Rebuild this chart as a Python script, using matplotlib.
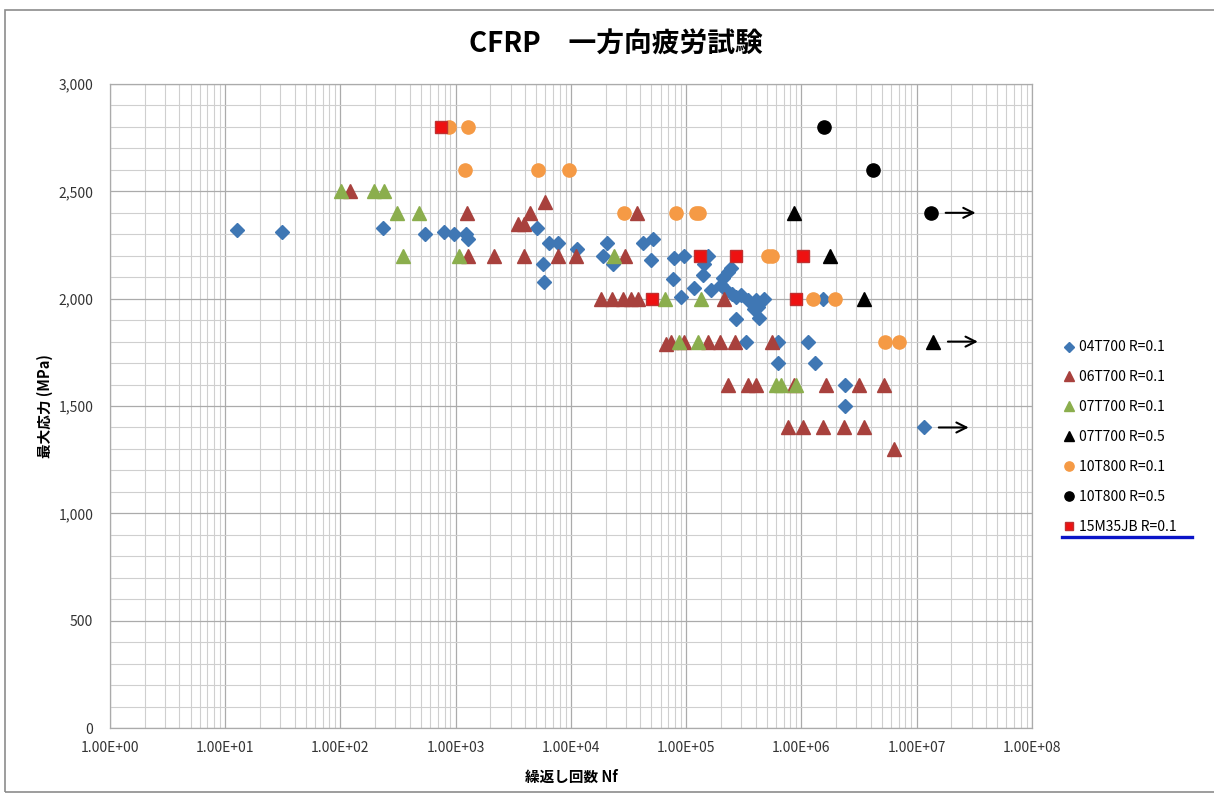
import matplotlib
matplotlib.use("Agg")
import matplotlib.pyplot as plt
from matplotlib.ticker import (FixedLocator, LogLocator, MultipleLocator,
                               FuncFormatter, NullFormatter)
from matplotlib.lines import Line2D
from matplotlib.patches import Rectangle

plt.rcParams['font.family'] = ['Noto Sans CJK JP', 'DejaVu Sans']

# cycles to failure Nf and max stress (MPa) per material / stress ratio
n_04t700_r01 = [12.7, 31, 232, 537, 787, 961, 1220, 1270, 5060, 6440, 7710, 11300,
                5710, 5820, 20600, 19000, 23200, 42300, 51600, 49600, 78700, 96100,
                77100, 90500, 117000, 155000, 143500, 140600, 165000, 246000, 231000,
                210000, 201000, 223000, 250000, 270000, 300000, 346000, 406000, 477000,
                390000, 423000, 431000, 272000, 333000, 631000, 1150000, 631000,
                1300000, 2370000, 2370000, 1550000, 11500000]
s_04t700_r01 = [2320, 2310, 2330, 2300, 2310, 2300, 2300, 2280, 2330, 2260, 2260, 2230,
                2160, 2080, 2260, 2200, 2160, 2260, 2280, 2180, 2190, 2200,
                2090, 2010, 2050, 2200, 2160, 2110, 2040, 2145, 2125,
                2095, 2065, 2040, 2020, 2010, 2015, 1995, 1995, 2000,
                1950, 1960, 1910, 1905, 1800, 1800, 1800, 1700,
                1700, 1600, 1500, 2000, 1400]

n_06t700_r01 = [122, 1250, 1270, 2140, 3480, 3950, 4400, 5900, 3900, 7710, 11000, 29500,
                37500, 18200, 22700, 28300, 33200, 38300, 214000, 67000, 74100, 96100,
                155000, 198000, 267000, 560000, 232000, 346000, 406000, 869000, 1650000,
                3130000, 5160000, 771000, 1040000, 1550000, 2320000, 3460000, 6310000]
s_06t700_r01 = [2500, 2400, 2200, 2200, 2350, 2350, 2400, 2450, 2200, 2200, 2200, 2200,
                2400, 2000, 2000, 2000, 2000, 2000, 2000, 1790, 1800, 1800,
                1800, 1800, 1800, 1800, 1600, 1600, 1600, 1600, 1600,
                1600, 1600, 1400, 1400, 1400, 1400, 1400, 1300]

n_07t700_r01 = [102, 194, 237, 307, 477, 346, 1060, 23700, 66000, 135000, 86900, 127000,
                607000, 670000, 906000]
s_07t700_r01 = [2500, 2500, 2500, 2400, 2400, 2200, 2200, 2200, 2000, 2000, 1800, 1800,
                1600, 1600, 1600]

n_07t700_r05 = [869000, 1760000, 3460000, 13800000]
s_07t700_r05 = [2400, 2200, 2000, 1800]

n_10t800_r01 = [870, 1270, 1200, 5160, 9610, 28900, 81800, 122000, 130000, 510000,
                560000, 1270000, 1940000, 5270000, 6970000]
s_10t800_r01 = [2800, 2800, 2600, 2600, 2600, 2400, 2400, 2400, 2400, 2200,
                2200, 2000, 2000, 1800, 1800]

n_10t800_r05 = [1585000, 4140000, 13200000]
s_10t800_r05 = [2800, 2600, 2400]

n_15m35jb_r01 = [741, 50600, 132000, 272000, 1040000, 906000]
s_15m35jb_r01 = [2800, 2000, 2200, 2200, 2200, 2000]

# run-outs (no failure), marked with an arrow
runout_n = [13200000, 13800000, 11500000]
runout_s = [2400, 1800, 1400]

x_ticks = [1e0, 1e1, 1e2, 1e3, 1e4, 1e5, 1e6, 1e7, 1e8]

fig = plt.figure(figsize=(12.14, 7.98), dpi=100)
ax = fig.add_axes([0.0906, 0.0877, 0.7594, 0.807])

ax.plot(n_04t700_r01, s_04t700_r01, 'D', ms=7.5, color='#3F77B4', label='04T700 R=0.1')
ax.plot(n_06t700_r01, s_06t700_r01, '^', ms=10, color='#A8413D', label='06T700 R=0.1')
ax.plot(n_07t700_r01, s_07t700_r01, '^', ms=10, color='#8BAE4D', label='07T700 R=0.1')
ax.plot(n_07t700_r05, s_07t700_r05, '^', ms=10, color='black', label='07T700 R=0.5')
ax.plot(n_10t800_r01, s_10t800_r01, 'o', ms=9.5, color='#F59A45', label='10T800 R=0.1')
ax.plot(n_10t800_r05, s_10t800_r05, 'o', ms=9.5, color='black', label='10T800 R=0.5')
ax.plot(n_15m35jb_r01, s_15m35jb_r01, 's', ms=8, color='#EE1111', mec='#C03030',
        label='15M35JB R=0.1')

for n, s in zip(runout_n, runout_s):
    ax.annotate('', xy=(n * 2.6, s), xytext=(n * 1.28, s),
                arrowprops=dict(arrowstyle='->', color='black', lw=1.5,
                                mutation_scale=18))

ax.set_xscale('log')
ax.set_xlim(1, 1e8)
ax.set_ylim(0, 3000)
ax.xaxis.set_major_locator(FixedLocator(x_ticks))
ax.xaxis.set_minor_locator(LogLocator(base=10, subs=range(2, 10), numticks=100))
ax.xaxis.set_minor_formatter(NullFormatter())
ax.xaxis.set_major_formatter(FuncFormatter(lambda v, p: f"{v:.2E}"))
ax.yaxis.set_major_locator(MultipleLocator(500))
ax.yaxis.set_minor_locator(MultipleLocator(100))
ax.yaxis.set_major_formatter(FuncFormatter(lambda v, p: f"{int(v):,}"))

ax.grid(which='major', color='#ABABAB', lw=0.9)
ax.grid(which='minor', color='#CFCFCF', lw=0.8)
ax.set_axisbelow(True)
for sp in ax.spines.values():
    sp.set_color('#ABABAB')
    sp.set_linewidth(0.9)
ax.tick_params(which='both', length=0)
ax.tick_params(axis='x', pad=9, labelsize=10, labelcolor='#333333')
ax.tick_params(axis='y', pad=12, labelsize=10, labelcolor='#333333')

ax.set_xlabel('繰返し回数 Nf', fontsize=10.5, fontweight='bold', labelpad=10)
ax.set_ylabel('最大応力 (MPa)', fontsize=10.5, fontweight='bold', labelpad=4)
fig.text(0.507, 0.944, 'CFRP　一方向疲労試験', ha='center', va='center',
         fontsize=20, fontweight='bold')

ax.legend(loc='center left', bbox_to_anchor=(0.87, 0.452),
          bbox_transform=fig.transFigure, frameon=False, fontsize=10,
          labelspacing=1.15, handlelength=0.8, handletextpad=0.35,
          markerscale=0.7, borderpad=0)

# underline beneath the last legend entry
fig.add_artist(Line2D([0.8748, 0.9819], [0.327, 0.327], color='#0A14C8', lw=2.4,
                      transform=fig.transFigure))
# chart frame
fig.add_artist(Rectangle((0.0041, 0.0075), 1.1, 0.98, fill=False, ec='#8C8C8C',
                         lw=1.2, transform=fig.transFigure))

fig.savefig('out.png', dpi=100)
